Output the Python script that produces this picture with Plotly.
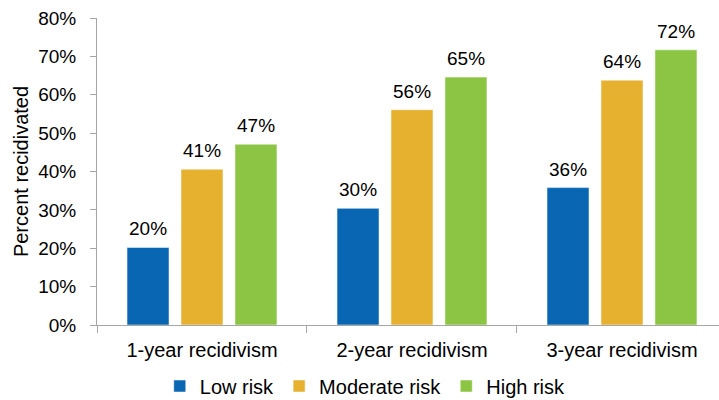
import plotly.graph_objects as go

categories = ["1-year recidivism", "2-year recidivism", "3-year recidivism"]
series_names = ["Low risk", "Moderate risk", "High risk"]
low_risk = [20.2, 30.4, 35.8]
moderate_risk = [40.6, 56.1, 63.8]
high_risk = [47.1, 64.6, 71.7]
colors = ["#0866B2", "#E6B12F", "#8CC543"]
y_ticks = [0, 10, 20, 30, 40, 50, 60, 70, 80]
y_tick_labels = [f"{v}%" for v in y_ticks]

series = [low_risk, moderate_risk, high_risk]
font_family = "Liberation Sans, Arial, sans-serif"

fig = go.Figure()
for name, vals, col in zip(series_names, series, colors):
    fig.add_trace(go.Bar(
        x=categories, y=vals, name=name,
        marker=dict(color=col, line=dict(color="rgba(255,255,255,0.5)", width=1)),
        hoverinfo="skip",
    ))

annotations = []
offsets = [-54, 0, 54]
for vals, off in zip(series, offsets):
    for c, v in zip(categories, vals):
        annotations.append(dict(
            x=c, y=v, xref="x", yref="y", text=f"{round(v)}%",
            showarrow=False, xshift=off, yshift=6, yanchor="bottom",
            font=dict(size=19, color="#000000", family=font_family),
        ))

fig.update_layout(
    width=719, height=400,
    margin=dict(l=97, r=0, t=18, b=75, autoexpand=False),
    paper_bgcolor="white", plot_bgcolor="white",
    font=dict(family=font_family, size=19, color="#000000"),
    barmode="group", bargap=0.229, bargroupgap=0.222,
    showlegend=True,
    legend=dict(orientation="h", x=0.508, xref="container", xanchor="center",
                y=0.035, yref="container", yanchor="middle",
                font=dict(size=20), itemwidth=30, traceorder="normal"),
    annotations=annotations,
    xaxis=dict(
        range=[-0.5, 2.462], showline=True, linecolor="#A6A6A6", linewidth=1,
        ticks="outside", tickson="boundaries", ticklen=7, tickcolor="#A6A6A6",
        tickfont=dict(size=20), showgrid=False, zeroline=False,
        ticklabelstandoff=7, automargin=False,
    ),
    yaxis=dict(
        range=[0, 80], tickvals=y_ticks, ticktext=y_tick_labels,
        showline=True, linecolor="#A6A6A6", linewidth=1,
        ticks="outside", ticklen=6, tickcolor="#A6A6A6",
        tickfont=dict(size=19), showgrid=False, zeroline=False,
        ticklabelstandoff=10, automargin=False,
        title=dict(text="Percent recidivated", font=dict(size=20), standoff=4),
    ),
)

fig.write_html("out.html")
